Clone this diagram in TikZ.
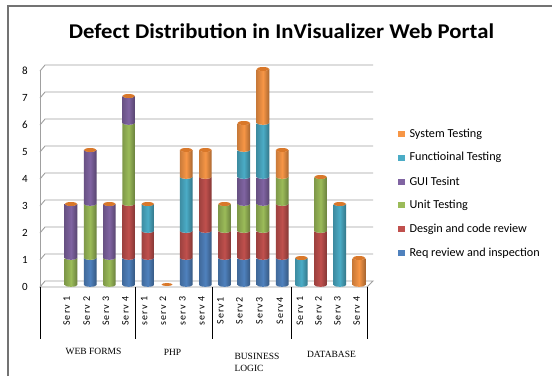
\documentclass[tikz,border=0pt]{standalone}
\usepackage{fontspec}
\setmainfont{Carlito}
\newfontfamily\grpfont{Liberation Serif}
\newfontfamily\tickfont[LetterSpace=12]{Carlito}
\definecolor{cReq}{HTML}{4F81BD}
\definecolor{cDes}{HTML}{C0504D}
\definecolor{cUnit}{HTML}{9BBB59}
\definecolor{cGui}{HTML}{8064A2}
\definecolor{cFun}{HTML}{4BACC6}
\definecolor{cSys}{HTML}{F79646}
\definecolor{cCap}{HTML}{D9782A}
\definecolor{gridc}{HTML}{A0A0A0}
\newcommand\seg[4]{\shade[left color=#4!82!black, right color=#4!68!black, middle color=#4]
  ({#1-6.3},{285-27*#2}) arc[start angle=180,end angle=360,x radius=6.3pt,y radius=1.8pt]
  -- ({#1+6.3},{285-27*#3}) arc[start angle=0,end angle=-180,x radius=6.3pt,y radius=1.8pt] -- cycle;}
\newcommand\cylcap[2]{\fill[cCap] (#1,{285-27*#2}) ellipse[x radius=6.3pt,y radius=2pt];}
\tikzset{
  gridline/.style={draw=gridc, line width=0.9pt},
  sepline/.style={draw=black, line width=0.7pt},
  ylab/.style={font=\fontsize{11}{13}\selectfont, anchor=center},
  ticklab/.style={font=\tickfont\fontsize{10}{12}\selectfont, rotate=90, anchor=center},
  grplab/.style={font=\grpfont\fontsize{9.5}{11}\selectfont},
  legtext/.style={font=\fontsize{12.2}{14}\selectfont, anchor=west},
}
\begin{document}
\begin{tikzpicture}[x=1pt,y=-1pt]
\useasboundingbox (0,0) rectangle (552,376);
\fill[white] (0,0) rectangle (552,376);
% outer frame
\draw[black!55, line width=1.5pt] (8,376) -- (8,6) -- (552,6);
% title
\node[xscale=1.08] (title) at (281.5,31) {\bfseries\fontsize{21}{24}\selectfont Defect Distribution in InVisualizer Web Portal};
% walls and gridlines
\draw[gridline] (40,71) -- (40,287);
\foreach \k in {1,...,8} {
  \draw[gridline] (40,{287-27*\k}) -- (45,{281-27*\k}) -- (373,{281-27*\k});
}
\draw[gridline] (40,287) -- (45,281) -- (373,281) -- (367,287) -- cycle;
% y labels
\foreach \k in {0,...,8} {
  \node[ylab] (y\k) at (25,{287-27*\k}) {\k};
}
% bars: WEB FORMS
\seg{71}{0}{1}{cUnit}\seg{71}{1}{3}{cGui}\cylcap{71}{3}
\seg{90.2}{0}{1}{cReq}\seg{90.2}{1}{3}{cUnit}\seg{90.2}{3}{5}{cGui}\cylcap{90.2}{5}
\seg{109.4}{0}{1}{cUnit}\seg{109.4}{1}{3}{cGui}\cylcap{109.4}{3}
\seg{128.6}{0}{1}{cReq}\seg{128.6}{1}{3}{cDes}\seg{128.6}{3}{6}{cUnit}\seg{128.6}{6}{7}{cGui}\cylcap{128.6}{7}
% PHP
\seg{147.8}{0}{1}{cReq}\seg{147.8}{1}{2}{cDes}\seg{147.8}{2}{3}{cFun}\cylcap{147.8}{3}
\fill[cCap] (167,284.5) ellipse[x radius=5.5pt,y radius=1.5pt];
\seg{186.2}{0}{1}{cReq}\seg{186.2}{1}{2}{cDes}\seg{186.2}{2}{4}{cFun}\seg{186.2}{4}{5}{cSys}\cylcap{186.2}{5}
\seg{205.4}{0}{2}{cReq}\seg{205.4}{2}{4}{cDes}\seg{205.4}{4}{5}{cSys}\cylcap{205.4}{5}
% BUSINESS LOGIC
\seg{224.6}{0}{1}{cReq}\seg{224.6}{1}{2}{cDes}\seg{224.6}{2}{3}{cUnit}\cylcap{224.6}{3}
\seg{243.8}{0}{1}{cReq}\seg{243.8}{1}{2}{cDes}\seg{243.8}{2}{3}{cUnit}\seg{243.8}{3}{4}{cGui}\seg{243.8}{4}{5}{cFun}\seg{243.8}{5}{6}{cSys}\cylcap{243.8}{6}
\seg{263}{0}{1}{cReq}\seg{263}{1}{2}{cDes}\seg{263}{2}{3}{cUnit}\seg{263}{3}{4}{cGui}\seg{263}{4}{6}{cFun}\seg{263}{6}{8}{cSys}\cylcap{263}{8}
\seg{282.2}{0}{1}{cReq}\seg{282.2}{1}{3}{cDes}\seg{282.2}{3}{4}{cUnit}\seg{282.2}{4}{5}{cSys}\cylcap{282.2}{5}
% DATABASE
\seg{301.4}{0}{1}{cFun}\cylcap{301.4}{1}
\seg{320.6}{0}{2}{cDes}\seg{320.6}{2}{4}{cUnit}\cylcap{320.6}{4}
\seg{339.8}{0}{3}{cFun}\cylcap{339.8}{3}
\seg{359}{0}{1}{cSys}\cylcap{359}{1}
% category separators
\foreach \sx in {40,135,212.5,291.5,367} {
  \draw[sepline] (\sx,287) -- (\sx,339);
}
% tick labels
\node[ticklab] (w1) at (66.7,311) {Serv 1};
\node[ticklab] (w2) at (86.7,311) {Serv 2};
\node[ticklab] (w3) at (106,311) {Serv 3};
\node[ticklab] (w4) at (125.3,311) {Serv 4};
\node[ticklab] (p1) at (144.3,311) {serv 1};
\node[ticklab] (p2) at (163,311) {serv 2};
\node[ticklab] (p3) at (182.3,311) {serv 3};
\node[ticklab] (p4) at (201.5,311) {serv 4};
\node[ticklab] (b1) at (220.3,311) {Serv1};
\node[ticklab] (b2) at (239.5,311) {Serv2};
\node[ticklab] (b3) at (259.3,311) {Serv3};
\node[ticklab] (b4) at (280,311) {Serv4};
\node[ticklab] (d1) at (300,311) {Serv 1};
\node[ticklab] (d2) at (318.5,311) {Serv 2};
\node[ticklab] (d3) at (337.5,311) {Serv 3};
\node[ticklab] (d4) at (356.7,311) {Serv 4};
% group labels
\node[grplab] (gweb) at (93.5,351) {WEB FORMS};
\node[grplab] (gphp) at (172.5,352) {PHP};
\node[grplab, anchor=west] (gbl1) at (231,356) {BUSINESS};
\node[grplab, anchor=west] (gbl2) at (231,368) {LOGIC};
\node[grplab] (gdb) at (331.5,354) {DATABASE};
% legend
\foreach \c/\t [count=\i from 0] in {cSys/System Testing, cFun/Functioinal Testing, cGui/GUI Tesint, cUnit/Unit Testing, cDes/Desgin and code review, cReq/Req review and inspection} {
  \fill[\c] (398,{134+23.8*\i-3}) rectangle (405,{134+23.8*\i+3});
  \node[legtext] (leg\i) at (406,{134+23.8*\i}) {\t};
}
\end{tikzpicture}
\end{document}
